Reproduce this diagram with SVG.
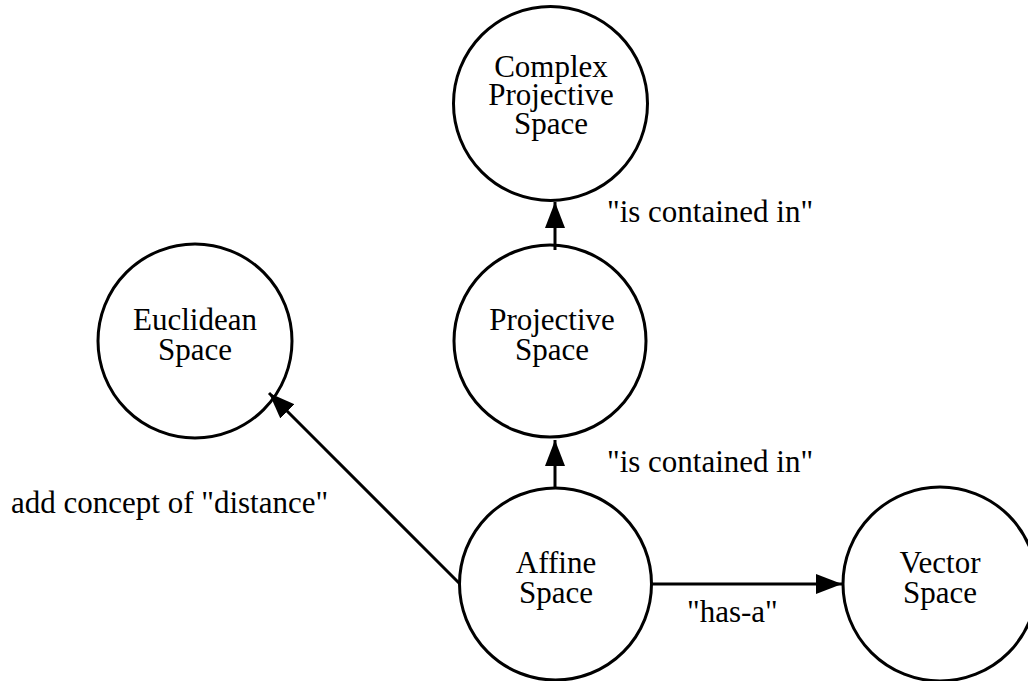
<svg xmlns="http://www.w3.org/2000/svg" width="1028" height="681" viewBox="0 0 1028 681" font-family="'Liberation Serif', 'Times New Roman', serif" font-size="31">
  <style>
    .node circle { fill: #ffffff; stroke: #000000; stroke-width: 3; }
    .node text, .label { font-family: Liberation Serif, Times New Roman, serif; font-size: 31px; fill: #000000; }
    .node text { text-anchor: middle; }
    .edge { stroke: #000000; stroke-width: 3; fill: none; marker-end: url(#head); }
  </style>
  <defs>
    <marker id="head" markerUnits="userSpaceOnUse" markerWidth="28" markerHeight="22" refX="26" refY="10" orient="auto">
      <path d="M0,0 L26,10 L0,20 Z" fill="#000000"/>
    </marker>
  </defs>
  <rect width="1028" height="681" fill="#ffffff"/>

  <g id="node-complex-projective" class="node">
    <circle cx="550.5" cy="103.5" r="97"/>
    <text x="551" y="77">Complex</text>
    <text x="551" y="105">Projective</text>
    <text x="551" y="134">Space</text>
  </g>

  <g id="node-projective" class="node">
    <circle cx="550" cy="341" r="96"/>
    <text x="552" y="330">Projective</text>
    <text x="552" y="360">Space</text>
  </g>

  <g id="node-euclidean" class="node">
    <circle cx="195" cy="341" r="97"/>
    <text x="195" y="330">Euclidean</text>
    <text x="195" y="360">Space</text>
  </g>

  <g id="node-affine" class="node">
    <circle cx="555.5" cy="584" r="96"/>
    <text x="556" y="573">Affine</text>
    <text x="556" y="603">Space</text>
  </g>

  <g id="node-vector" class="node">
    <circle cx="940" cy="584" r="97"/>
    <text x="940" y="573">Vector</text>
    <text x="940" y="603">Space</text>
  </g>

  <g id="connectors">
    <line class="edge" x1="555" y1="250" x2="555" y2="202"/>
    <line class="edge" x1="555" y1="488" x2="555" y2="440"/>
    <line class="edge" x1="651" y1="584" x2="842" y2="584"/>
    <line class="edge" x1="459" y1="583" x2="269" y2="393"/>
  </g>

  <g id="labels">
    <text class="label" x="607" y="222">"is contained in"</text>
    <text class="label" x="607" y="472">"is contained in"</text>
    <text class="label" x="11" y="513">add concept of "distance"</text>
    <text class="label" x="687" y="622">"has-a"</text>
  </g>
</svg>
